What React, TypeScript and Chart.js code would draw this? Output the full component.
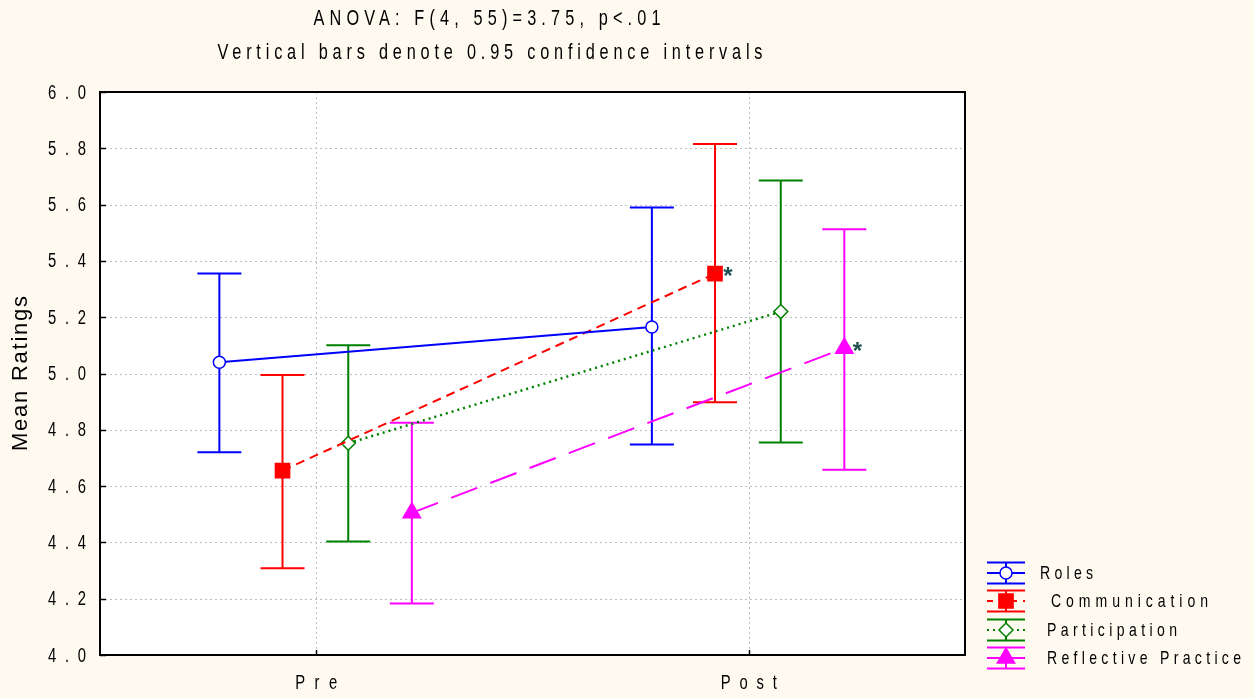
import React, { useEffect, useRef } from "react";
import { Chart, registerables } from "chart.js";

Chart.register(...registerables);

// ---------- data ----------
const categories = ["Pre", "Post"];
const seriesNames = ["Roles", "Communication", "Participation", "Reflective Practice"];

const rolesMean = [5.04, 5.165];
const rolesLow = [4.72, 4.748];
const rolesHigh = [5.355, 5.59];

const commMean = [4.655, 5.355];
const commLow = [4.308, 4.898];
const commHigh = [4.995, 5.815];

const partMean = [4.752, 5.22];
const partLow = [4.403, 4.755];
const partHigh = [5.1, 5.686];

const reflMean = [4.505, 5.09];
const reflLow = [4.183, 4.658];
const reflHigh = [4.825, 5.512];

const seriesOffsets = [-0.224, -0.078, 0.074, 0.221];
const significantPost = [false, true, false, true];

const yTickLabels = ["4.0", "4.2", "4.4", "4.6", "4.8", "5.0", "5.2", "5.4", "5.6", "5.8", "6.0"];
const titleLines = ["ANOVA: F(4, 55)=3.75, p<.01", "Vertical bars denote 0.95 confidence intervals"];
const yAxisTitle = "Mean Ratings";

// ---------- styles ----------
const FONT = '"Liberation Sans Narrow", "Liberation Sans", Arial, sans-serif';
const CONDENSE = 0.74;
const BG = "#FFFAF0";
const colors = ["#0000FF", "#FF0000", "#008000", "#FF00FF"];
const dashes: number[][] = [[], [9, 6], [2, 4], [28, 14]];
const pointStyles = ["circle", "rect", "rectRot", "triangle"];
const pointRadii = [6, 10, 7, 10];
const pointFills = ["#FFFFFF", "#FF0000", "#FFFFFF", "#FF00FF"];

const means = [rolesMean, commMean, partMean, reflMean];
const lows = [rolesLow, commLow, partLow, reflLow];
const highs = [rolesHigh, commHigh, partHigh, reflHigh];

function spacedText(
  ctx: CanvasRenderingContext2D,
  text: string,
  x: number,
  y: number,
  target: number,
  align: "left" | "center" | "right",
  condense = CONDENSE
) {
  ctx.save();
  let sx = x;
  if (align === "center") sx = x - target / 2;
  if (align === "right") sx = x - target;
  ctx.translate(sx, y);
  ctx.scale(condense, 1);
  const t = target / condense;
  (ctx as any).letterSpacing = "0px";
  const w0 = ctx.measureText(text).width;
  const ls = text.length > 1 ? (t - w0) / (text.length - 1) : 0;
  (ctx as any).letterSpacing = ls + "px";
  ctx.textAlign = "left";
  ctx.fillText(text, 0, 0);
  (ctx as any).letterSpacing = "0px";
  ctx.restore();
}

function drawMarker(ctx: CanvasRenderingContext2D, i: number, x: number, y: number) {
  const r = pointRadii[i];
  ctx.save();
  ctx.setLineDash([]);
  ctx.fillStyle = pointFills[i];
  ctx.strokeStyle = colors[i];
  ctx.lineWidth = 1.5;
  ctx.beginPath();
  if (i === 0) {
    ctx.arc(x, y, r, 0, Math.PI * 2);
  } else if (i === 1) {
    const s = r * Math.SQRT1_2;
    ctx.rect(x - s, y - s, 2 * s, 2 * s);
  } else if (i === 2) {
    ctx.moveTo(x, y - r);
    ctx.lineTo(x + r, y);
    ctx.lineTo(x, y + r);
    ctx.lineTo(x - r, y);
    ctx.closePath();
  } else {
    for (let k = 0; k < 3; k++) {
      const a = (k * 2 * Math.PI) / 3;
      const px = x + Math.sin(a) * r;
      const py = y - Math.cos(a) * r;
      if (k === 0) ctx.moveTo(px, py);
      else ctx.lineTo(px, py);
    }
    ctx.closePath();
  }
  ctx.fill();
  ctx.stroke();
  ctx.restore();
}

const decorPlugin = {
  id: "decor",
  beforeDraw(chart: any) {
    const { ctx, chartArea: a } = chart;
    ctx.save();
    ctx.fillStyle = BG;
    ctx.fillRect(0, 0, chart.width, chart.height);
    ctx.fillStyle = "#FFFFFF";
    ctx.fillRect(a.left, a.top, a.right - a.left, a.bottom - a.top);
    const xs = chart.scales.x;
    const ys = chart.scales.y;
    ctx.strokeStyle = "#BDBDBD";
    ctx.lineWidth = 1;
    ctx.setLineDash([2, 3]);
    yTickLabels.forEach((t) => {
      const py = Math.round(ys.getPixelForValue(parseFloat(t))) + 0.5;
      ctx.beginPath();
      ctx.moveTo(a.left, py);
      ctx.lineTo(a.right, py);
      ctx.stroke();
    });
    categories.forEach((_, j) => {
      const px = Math.round(xs.getPixelForValue(j + 1)) + 0.5;
      ctx.beginPath();
      ctx.moveTo(px, a.top);
      ctx.lineTo(px, a.bottom);
      ctx.stroke();
    });
    ctx.restore();
  },
  beforeDatasetsDraw(chart: any) {
    const { ctx } = chart;
    const xs = chart.scales.x;
    const ys = chart.scales.y;
    ctx.save();
    ctx.setLineDash([]);
    ctx.lineWidth = 2;
    means.forEach((m, i) => {
      ctx.strokeStyle = colors[i];
      m.forEach((_, j) => {
        const px = xs.getPixelForValue(j + 1 + seriesOffsets[i]);
        const pLo = ys.getPixelForValue(lows[i][j]);
        const pHi = ys.getPixelForValue(highs[i][j]);
        ctx.beginPath();
        ctx.moveTo(px, pLo);
        ctx.lineTo(px, pHi);
        ctx.moveTo(px - 22, pLo);
        ctx.lineTo(px + 22, pLo);
        ctx.moveTo(px - 22, pHi);
        ctx.lineTo(px + 22, pHi);
        ctx.stroke();
      });
    });
    ctx.restore();
  },
  afterDraw(chart: any) {
    const { ctx, chartArea: a } = chart;
    const xs = chart.scales.x;
    const ys = chart.scales.y;
    ctx.save();
    ctx.setLineDash([]);
    ctx.strokeStyle = "#000000";
    ctx.lineWidth = 2;
    ctx.strokeRect(a.left, a.top, a.right - a.left, a.bottom - a.top);
    ctx.lineWidth = 1.5;
    yTickLabels.forEach((t) => {
      const py = Math.round(ys.getPixelForValue(parseFloat(t))) + 0.5;
      ctx.beginPath();
      ctx.moveTo(a.left, py);
      ctx.lineTo(a.left + 6, py);
      ctx.stroke();
    });
    categories.forEach((_, j) => {
      const px = Math.round(xs.getPixelForValue(j + 1)) + 0.5;
      ctx.beginPath();
      ctx.moveTo(px, a.bottom);
      ctx.lineTo(px, a.bottom - 5);
      ctx.stroke();
    });
    ctx.fillStyle = "#000000";
    ctx.font = `20px ${FONT}`;
    ctx.textBaseline = "middle";
    yTickLabels.forEach((t) => {
      const py = ys.getPixelForValue(parseFloat(t));
      spacedText(ctx, t, a.left - 14, py + 1, 38, "right");
    });
    const xLabelWidths = [42, 56];
    categories.forEach((c, j) => {
      const px = xs.getPixelForValue(j + 1);
      spacedText(ctx, c, px, a.bottom + 28, xLabelWidths[j], "center");
    });
    ctx.font = `22px ${FONT}`;
    spacedText(ctx, titleLines[0], 487, 19, 347, "center");
    spacedText(ctx, titleLines[1], 490, 53, 545, "center");
    ctx.save();
    ctx.translate(21, (a.top + a.bottom) / 2);
    ctx.rotate(-Math.PI / 2);
    ctx.font = `22px "Liberation Sans", Arial, sans-serif`;
    spacedText(ctx, yAxisTitle, 0, 0, 155, "center", 1);
    ctx.restore();
    ctx.fillStyle = "#1F4F4F";
    ctx.font = `bold 24px "Liberation Sans", Arial, sans-serif`;
    ctx.textAlign = "center";
    ctx.textBaseline = "middle";
    significantPost.forEach((s, i) => {
      if (!s) return;
      const px = xs.getPixelForValue(2 + seriesOffsets[i]);
      const py = ys.getPixelForValue(means[i][1]);
      ctx.fillText("*", px + 13, py + 4);
    });
    const lx0 = 987;
    const lx1 = 1025;
    const lcx = 1006;
    const rows = [573, 601, 630, 658];
    const textX = [1040, 1051, 1047, 1047];
    const textW = [53, 157, 130, 194];
    rows.forEach((ry, i) => {
      ctx.strokeStyle = colors[i];
      ctx.lineWidth = 2;
      ctx.setLineDash([]);
      ctx.beginPath();
      ctx.moveTo(lx0, ry - 10.5);
      ctx.lineTo(lx1, ry - 10.5);
      ctx.moveTo(lx0, ry + 10.5);
      ctx.lineTo(lx1, ry + 10.5);
      ctx.moveTo(lcx, ry - 10.5);
      ctx.lineTo(lcx, ry + 10.5);
      ctx.stroke();
      ctx.setLineDash(i === 1 ? [6, 6] : i === 2 ? [2, 4] : []);
      ctx.beginPath();
      ctx.moveTo(lx0, ry);
      ctx.lineTo(lx1, ry);
      ctx.stroke();
      ctx.setLineDash([]);
      drawMarker(ctx, i, lcx, ry);
      ctx.fillStyle = "#000000";
      ctx.font = `19px ${FONT}`;
      ctx.textBaseline = "middle";
      spacedText(ctx, seriesNames[i], textX[i], ry + 1, textW[i], "left");
    });
    ctx.restore();
  },
};

export default function App() {
  const ref = useRef<HTMLCanvasElement>(null);
  useEffect(() => {
    document.body.style.margin = "0";
    document.body.style.background = BG;
    const canvas = ref.current;
    if (!canvas) return;
    const chart = new Chart(canvas, {
      type: "line",
      data: {
        datasets: seriesNames.map((name, i) => ({
          label: name,
          data: categories.map((_, j) => ({ x: j + 1 + seriesOffsets[i], y: means[i][j] })),
          borderColor: colors[i],
          backgroundColor: pointFills[i],
          borderWidth: i === 2 ? 2.5 : 2,
          borderDash: dashes[i],
          borderCapStyle: "butt",
          pointStyle: pointStyles[i] as any,
          pointRadius: pointRadii[i],
          pointBorderColor: colors[i],
          pointBackgroundColor: pointFills[i],
          pointBorderWidth: 1.5,
          fill: false,
          tension: 0,
        })),
      },
      options: {
        animation: false,
        responsive: false,
        devicePixelRatio: 1,
        layout: { padding: { left: 0, top: 92, right: 289, bottom: 0 } },
        plugins: { legend: { display: false }, tooltip: { enabled: false }, title: { display: false } },
        events: [],
        scales: {
          x: {
            type: "linear",
            min: 0.5,
            max: 2.5,
            afterBuildTicks: (s: any) => {
              s.ticks = categories.map((_, j) => ({ value: j + 1 }));
            },
            afterFit: (s: any) => {
              s.height = 43;
            },
            ticks: { display: false },
            grid: { display: false },
            border: { display: false },
          },
          y: {
            type: "linear",
            min: 4.0,
            max: 6.0,
            afterBuildTicks: (s: any) => {
              s.ticks = yTickLabels.map((t) => ({ value: parseFloat(t) }));
            },
            afterFit: (s: any) => {
              s.width = 100;
            },
            ticks: { display: false },
            grid: { display: false },
            border: { display: false },
          },
        },
      },
      plugins: [decorPlugin],
    });
    return () => chart.destroy();
  }, []);
  return (
    <div style={{ width: 1254, height: 698, background: BG }}>
      <canvas ref={ref} width={1254} height={698} style={{ display: "block", width: 1254, height: 698 }} />
    </div>
  );
}
